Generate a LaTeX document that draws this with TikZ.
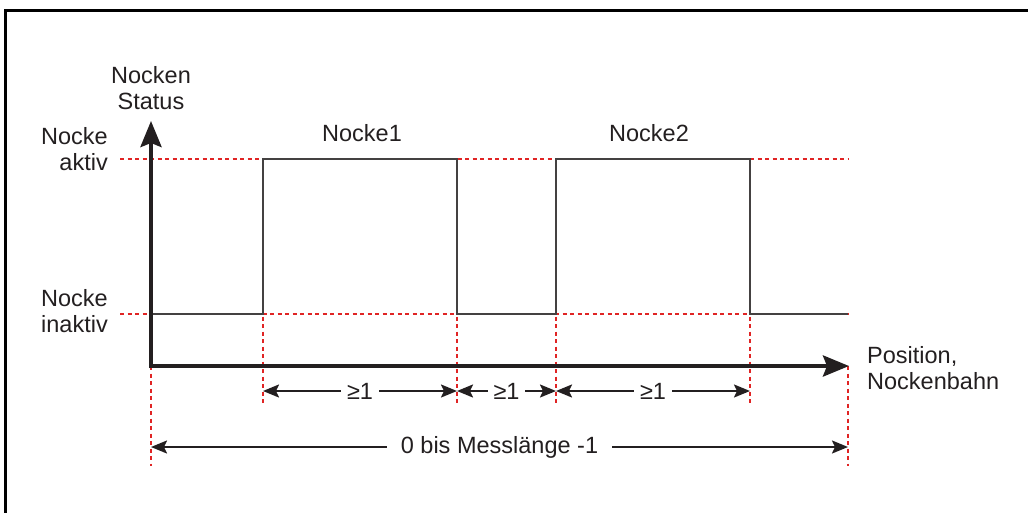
\documentclass[tikz,border=0pt]{standalone}
\usepackage{fontspec}
\setmainfont{Liberation Sans}
\usetikzlibrary{arrows.meta}
\definecolor{ink}{HTML}{231F20}
\definecolor{guide}{HTML}{E02424}
\begin{document}
\begin{tikzpicture}[x=1pt,y=-1pt,
  frame/.style={draw=black,line width=3pt},
  axis/.style={draw=ink,line width=4pt,-{Stealth[length=26pt,width=21pt,inset=4pt]}},
  signal/.style={draw=ink!85,line width=2pt},
  guideline/.style={draw=guide,line width=2pt,dash pattern=on 4pt off 3.5pt},
  dimline/.style={draw=ink,line width=2pt,{Stealth[length=16pt,width=13pt,inset=3pt]}-{Stealth[length=16pt,width=13pt,inset=3pt]}},
  lbl/.style={text=ink,font=\fontsize{23.5}{26}\selectfont,inner sep=0pt},
  dimlbl/.style={lbl,fill=white,inner xsep=6pt,inner ysep=2pt}
]
\useasboundingbox (0,0) rectangle (1028,512);

% outer frame (open to the right and bottom)
\draw[frame] (5.5,513) -- (5.5,10.5) -- (1029,10.5);

% key positions
\coordinate (o) at (151,366);
\coordinate (ytip) at (151,121);
\coordinate (xtip) at (849,366);
\coordinate (a0) at (151,314);
\coordinate (a1) at (263,314);
\coordinate (b1) at (263,159);
\coordinate (b2) at (457,159);
\coordinate (a2) at (457,314);
\coordinate (a3) at (556,314);
\coordinate (b3) at (556,159);
\coordinate (b4) at (750,159);
\coordinate (a4) at (750,314);
\coordinate (a5) at (848,314);

% red reference lines
\draw[guideline] (120,159) -- (848,159);
\draw[guideline] (120,314) -- (848,314);
\draw[guideline] (151,366) -- (151,466);
\draw[guideline] (263,159) -- (263,406);
\draw[guideline] (457,159) -- (457,406);
\draw[guideline] (556,159) -- (556,406);
\draw[guideline] (750,159) -- (750,406);
\draw[guideline] (848,366) -- (848,466);

% cam signal
\draw[signal] (a0) -- (a1) -- (b1) -- (b2) -- (a2) -- (a3) -- (b3) -- (b4) -- (a4) -- (a5);

% axes
\draw[axis] (151,368) -- (ytip);
\draw[axis] (149,366) -- (xtip);

% dimension arrows
\coordinate (d1) at (263,391);
\coordinate (d2) at (457,391);
\coordinate (d3) at (556,391);
\coordinate (d4) at (750,391);
\coordinate (e1) at (151,447);
\coordinate (e2) at (848,447);
\draw[dimline] (d1) -- node[dimlbl] (w1) {≥1} (d2);
\draw[dimline] (d2) -- node[dimlbl] (w2) {≥1} (d3);
\draw[dimline] (d3) -- node[dimlbl] (w3) {≥1} (d4);
\draw[dimline] (e1) -- node[dimlbl,inner xsep=14pt] (w4) {0 bis Messlänge -1} (e2);

% labels
\node[lbl,align=center] (ylab) at (151,88) {Nocken\\Status};
\node[lbl,align=right,anchor=east] (hi) at (108,149) {Nocke\\aktiv};
\node[lbl,align=right,anchor=east] (lo) at (108,311) {Nocke\\inaktiv};
\node[lbl] (n1) at (362,133) {Nocke1};
\node[lbl] (n2) at (649,133) {Nocke2};
\node[lbl,align=left,anchor=west] (xlab) at (867,368) {Position,\\Nockenbahn};
\end{tikzpicture}
\end{document}
